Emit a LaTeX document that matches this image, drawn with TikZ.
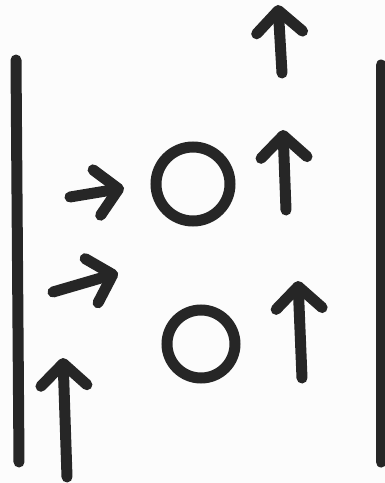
\documentclass[tikz,border=0pt]{standalone}
\usetikzlibrary{arrows.meta}
\definecolor{ink}{HTML}{262626}
\definecolor{paper}{HTML}{FCFCFC}

\begin{document}
\begin{tikzpicture}[
    x=1pt, y=-1pt,
    wall/.style = {draw=ink, line width=11pt, line cap=round},
    ring/.style = {circle, draw=ink, line width=11pt, inner sep=0pt},
    arr/.style  = {draw=ink, line width=11pt, line cap=round, line join=round,
                   -{Straight Barb[length=22pt, width=46pt, line cap=round, line join=round]}},
]

%% canvas
\fill[paper] (0,0) rectangle (385,483);
\useasboundingbox (0,0) rectangle (385,483);

%% walls
\coordinate (lwtop) at (16,60);
\coordinate (lwbot) at (19,462);
\coordinate (rwtop) at (381,65);
\coordinate (rwbot) at (381,462);
\draw[wall] (lwtop) -- (lwbot);
\draw[wall] (rwtop) -- (rwbot);

%% rings
\node[ring, minimum size=74pt] (upper) at (193,184) {};
\node[ring, minimum size=68pt] (lower) at (201,344) {};

%% arrow ends
\coordinate (aTail) at (70,197);   \coordinate (aTip) at (124,188);
\coordinate (bTail) at (53,292);   \coordinate (bTip) at (118,273);
\coordinate (cTail) at (67,477);   \coordinate (cTip) at (63,358);
\coordinate (dTail) at (282,73);   \coordinate (dTip) at (278,5);
\coordinate (eTail) at (286,210);  \coordinate (eTip) at (283,130);
\coordinate (fTail) at (302,378);  \coordinate (fTip) at (298,281);

%% arrows
\draw[arr] (aTail) -- (aTip);
\draw[arr] (bTail) -- (bTip);
\draw[arr] (cTail) -- (cTip);
\draw[arr] (dTail) -- (dTip);
\draw[arr] (eTail) -- (eTip);
\draw[arr] (fTail) -- (fTip);

\end{tikzpicture}
\end{document}
